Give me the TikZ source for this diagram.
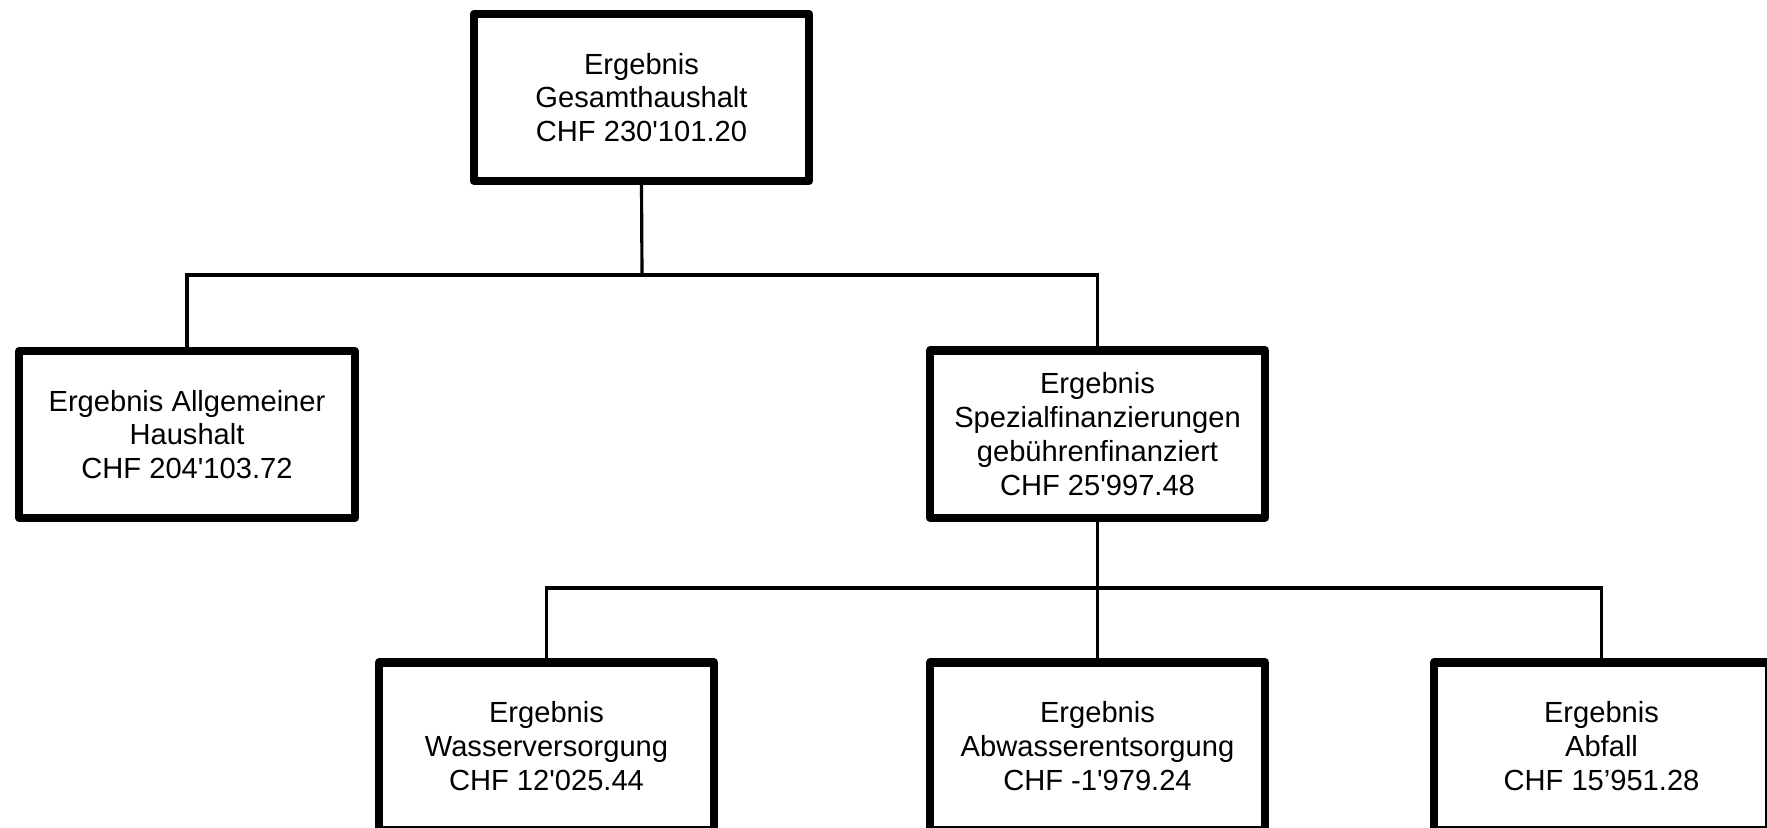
\documentclass[tikz,border=0pt]{standalone}
\usepackage{fontspec}
\setmainfont{Liberation Sans}
\usetikzlibrary{positioning}

\begin{document}
\begin{tikzpicture}[x=0.01cm,y=-0.01cm,
	ergebnis/.style={draw, fill=white, line width=2.3pt, line join=round,
		minimum width=3.35cm, minimum height=1.67cm, inner sep=0pt,
		align=center, font=\fontsize{8.28pt}{9.6pt}\selectfont},
	verbindung/.style={line width=0.9pt}]
				\fill[white] (0,0) rectangle (1767,827);
				\useasboundingbox (0,0) rectangle (1767,827);
				\clip (0,0) rectangle (1767,827);
				\node[ergebnis] (ges) at (641.5,97.5) {Ergebnis\\Gesamthaushalt\\CHF 230\textquotesingle 101.20};
				\node[ergebnis] (allg) at (187,434.5) {Ergebnis Allgemeiner\\Haushalt\\CHF 204\textquotesingle 103.72};
				\node[ergebnis] (spez) at (1097.5,434) {Ergebnis\\Spezialfinanzierungen\\gebührenfinanziert\\CHF 25\textquotesingle 997.48};
				\node[ergebnis] (wasser) at (546.5,746) {Ergebnis\\Wasserversorgung\\CHF 12\textquotesingle 025.44};
				\node[ergebnis] (abw) at (1097.5,746) {Ergebnis\\Abwasserentsorgung\\CHF -1\textquotesingle 979.24};
				\node[ergebnis] (abf) at (1601.5,746) {Ergebnis\\Abfall\\CHF 15’951.28};
				\coordinate (knoten1) at (642,275);
				\coordinate (knoten2) at (1097,588);
				\draw[verbindung] (ges.south) -- (knoten1);
				\draw[verbindung] (allg.north) |- (knoten1) -| (spez.north);
				\draw[verbindung] (spez.south) -- (abw.north);
				\foreach \n in {wasser,abf}
				\draw[verbindung] (\n.north) |- (knoten2);
\end{tikzpicture}
\end{document}
